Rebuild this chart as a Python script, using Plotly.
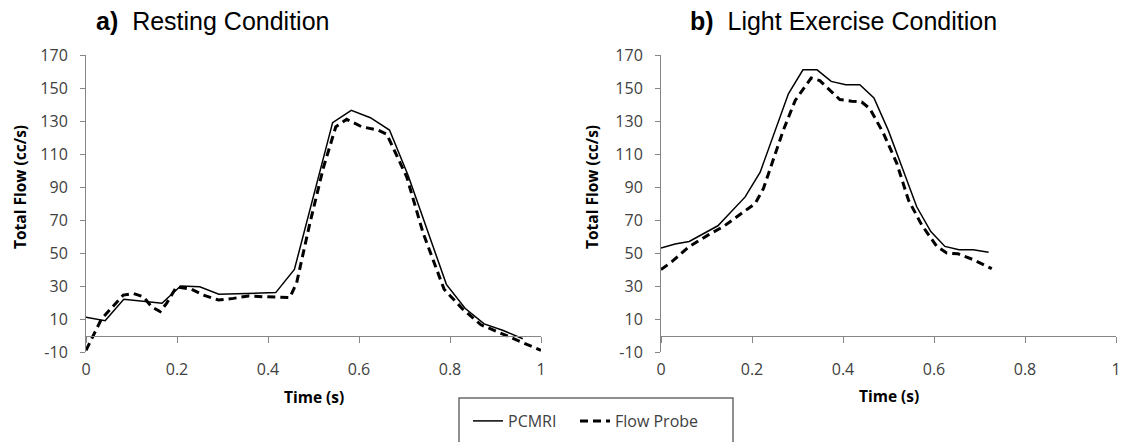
import plotly.graph_objects as go

# ---------------- data ----------------
rest_time_pcmri = [0, 0.042, 0.083, 0.167, 0.208, 0.25, 0.292, 0.417, 0.458, 0.5,
                   0.542, 0.583, 0.625, 0.667, 0.708, 0.75, 0.792, 0.833, 0.875,
                   0.917, 0.96]
rest_flow_pcmri = [11, 9, 22, 19.5, 30, 29.5, 25, 26, 40, 85,
                   129, 136.5, 132, 124.5, 97, 64, 31, 16.5, 7,
                   3, -2]

rest_time_probe = [0, 0.034, 0.082, 0.104, 0.126, 0.144, 0.163, 0.177, 0.199, 0.232,
                   0.258, 0.291, 0.324, 0.357, 0.39, 0.448, 0.463, 0.492, 0.522,
                   0.549, 0.573, 0.606, 0.642, 0.661, 0.705, 0.741, 0.787, 0.828,
                   0.868, 0.935, 1.0]
rest_flow_probe = [-9, 10, 24.5, 25.5, 23.5, 17.5, 14.5, 19.5, 29.5, 28,
                   24.5, 21.5, 22.5, 24, 23.5, 23, 32, 68, 102,
                   126.5, 131, 126.5, 124.5, 122, 96, 62, 28, 16,
                   6.5, -1.5, -9]

ex_time_pcmri = [0, 0.031, 0.062, 0.125, 0.185, 0.218, 0.28, 0.312, 0.343, 0.374,
                 0.406, 0.437, 0.468, 0.5, 0.531, 0.562, 0.593, 0.624, 0.655,
                 0.686, 0.72]
ex_flow_pcmri = [53, 55.5, 57, 66.5, 84, 99, 146.5, 161, 161, 154,
                 152, 152, 144, 124, 101, 78, 63, 54, 52,
                 52, 50.5]

ex_time_probe = [0, 0.023, 0.06, 0.104, 0.137, 0.207, 0.225, 0.269, 0.295, 0.33,
                 0.349, 0.393, 0.419, 0.441, 0.459, 0.489, 0.518, 0.544, 0.573,
                 0.606, 0.628, 0.653, 0.686, 0.727]
ex_flow_probe = [40, 44.5, 53.5, 61, 66, 80, 89, 124.5, 142.5, 156,
                 154.5, 143, 142, 141.5, 137.5, 122.5, 104.5, 82, 67,
                 54, 50, 49.5, 46, 40.5]

y_tick_values = [-10, 10, 30, 50, 70, 90, 110, 130, 150, 170]
y_tick_labels = ["-10", "10", "30", "50", "70", "90", "110", "130", "150", "170"]
x_tick_values = [0, 0.2, 0.4, 0.6, 0.8, 1]
x_tick_labels = ["0", "0.2", "0.4", "0.6", "0.8", "1"]

series_names = ["PCMRI", "Flow Probe"]
panel_titles = ["<b>a)</b>\u00a0\u00a0Resting Condition",
                "<b>b)</b>\u00a0\u00a0Light Exercise Condition"]
y_title = "<b>Total Flow (cc/s)</b>"
x_title = "<b>Time (s)</b>"

# ---------------- layout helpers ----------------
W, H = 1126, 442
def fx(p):
    return p / W
def fy(p):
    return 1 - p / H

AXIS_GRAY = "#868686"
TEXT = "#404040"
TICK_FONT = dict(family="Open Sans", size=16, color=TEXT)
LEG_FONT = dict(family="Open Sans", size=16, color=TEXT)

solid = dict(color="black", width=1.5)
dashed = dict(color="black", width=3, dash="8px,5px")

fig = go.Figure()
fig.add_trace(go.Scatter(x=rest_time_pcmri, y=rest_flow_pcmri, mode="lines",
                         name=series_names[0], line=solid, xaxis="x", yaxis="y",
                         legend="legend"))
fig.add_trace(go.Scatter(x=rest_time_probe, y=rest_flow_probe, mode="lines",
                         name=series_names[1], line=dashed, xaxis="x", yaxis="y",
                         legend="legend2"))
fig.add_trace(go.Scatter(x=ex_time_pcmri, y=ex_flow_pcmri, mode="lines",
                         name=series_names[0], line=solid, xaxis="x2", yaxis="y2",
                         showlegend=False))
fig.add_trace(go.Scatter(x=ex_time_probe, y=ex_flow_probe, mode="lines",
                         name=series_names[1], line=dashed, xaxis="x2", yaxis="y2",
                         showlegend=False))
# empty traces so the zero-crossing axes get drawn
fig.add_trace(go.Scatter(x=[], y=[], xaxis="x3", yaxis="y", showlegend=False, hoverinfo="skip"))
fig.add_trace(go.Scatter(x=[], y=[], xaxis="x4", yaxis="y2", showlegend=False, hoverinfo="skip"))

ydom = [fy(352), fy(55)]
zero_pos = fy(335.5)

def xbottom(dom):
    return dict(domain=dom, range=[0, 1], tickmode="array", tickvals=x_tick_values,
                ticktext=x_tick_labels, showline=False,
                ticks="", showgrid=False, zeroline=False, tickfont=TICK_FONT,
                ticklabelstandoff=6, ticklabeloverflow="allow",
                automargin=False, fixedrange=True)

def xzero(over):
    return dict(overlaying=over, anchor="free", position=zero_pos, range=[0, 1],
                tickmode="array", tickvals=x_tick_values, showline=True,
                linecolor=AXIS_GRAY, linewidth=1,
                ticks="outside", ticklen=6, tickcolor=AXIS_GRAY, showticklabels=False,
                showgrid=False, zeroline=False, automargin=False)

def yax(anchor):
    return dict(domain=ydom, anchor=anchor, range=[-10, 170], tickmode="array",
                tickvals=y_tick_values, ticktext=y_tick_labels,
                showline=True, linecolor=AXIS_GRAY, linewidth=1, ticks="outside",
                ticklen=5, tickcolor=AXIS_GRAY, showgrid=False, zeroline=False,
                tickfont=TICK_FONT, ticklabelstandoff=9, automargin=False)

left_dom = [fx(86), fx(541)]
right_dom = [fx(661), fx(1116)]

def leg(xp):
    return dict(orientation="h", x=fx(xp), xanchor="left", y=fy(421), yanchor="middle",
                font=LEG_FONT, bgcolor="rgba(0,0,0,0)", borderwidth=0, itemwidth=30)

fig.update_layout(
    width=W, height=H, margin=dict(l=0, r=0, t=0, b=0),
    paper_bgcolor="white", plot_bgcolor="white",
    xaxis=dict(**xbottom(left_dom), anchor="y"),
    yaxis=yax("x"),
    xaxis2=dict(**xbottom(right_dom), anchor="y2"),
    yaxis2=yax("x2"),
    xaxis3=xzero("x"),
    xaxis4=xzero("x2"),
    showlegend=True,
    legend=leg(468),
    legend2=leg(575),
    font=dict(family="Open Sans", color=TEXT),
    hovermode=False,
)

annotations = [
    dict(text=panel_titles[0], x=fx(94), y=fy(21), xanchor="left", yanchor="middle",
         font=dict(family="Liberation Sans", size=25, color="black")),
    dict(text=panel_titles[1], x=fx(688), y=fy(21), xanchor="left", yanchor="middle",
         font=dict(family="Liberation Sans", size=25, color="black")),
    dict(text=y_title, x=fx(20), y=fy(187), textangle=-90, xanchor="center", yanchor="middle",
         font=dict(family="Open Sans", size=15.5, color="black")),
    dict(text=y_title, x=fx(592), y=fy(187), textangle=-90, xanchor="center", yanchor="middle",
         font=dict(family="Open Sans", size=15.5, color="black")),
    dict(text=x_title, x=fx(313.5), y=fy(397), xanchor="center", yanchor="middle",
         font=dict(family="Open Sans", size=15.5, color="black")),
    dict(text=x_title, x=fx(888.5), y=fy(396), xanchor="center", yanchor="middle",
         font=dict(family="Open Sans", size=15.5, color="black")),
]
for a in annotations:
    a.update(xref="paper", yref="paper", showarrow=False)
fig.update_layout(annotations=annotations)

fig.add_shape(type="rect", xref="paper", yref="paper", x0=fx(459), x1=fx(733),
              y0=fy(398), y1=-0.2, line=dict(color="#6b6b6b", width=1.5),
              fillcolor="rgba(0,0,0,0)", layer="below")

fig.write_html("out.html", config={"displayModeBar": False, "staticPlot": True},
               post_script="document.body.style.margin='0px';"
                           "document.body.style.overflow='hidden';")
